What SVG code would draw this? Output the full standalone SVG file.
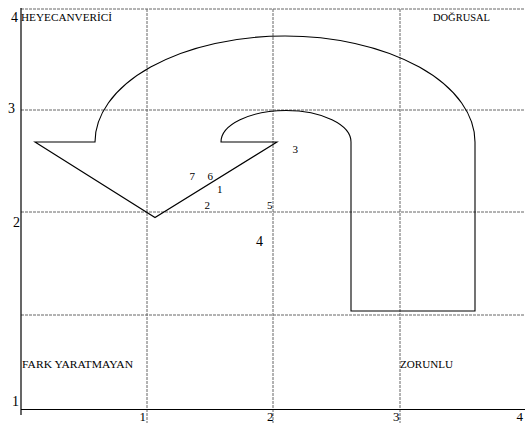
<svg xmlns="http://www.w3.org/2000/svg" width="525" height="423" viewBox="0 0 525 423">
<style>
.grid{stroke:#666;stroke-width:1;stroke-dasharray:3,1;fill:none}
.ax{stroke:#000;stroke-width:1.2;fill:none}
.shape{stroke:#000;stroke-width:1.1;fill:none}
.lbl{font-family:"Liberation Serif",serif;font-size:10.5px;fill:#000}
.num{font-family:"Liberation Serif",serif;font-size:14px;fill:#000}
.bx{font-family:"Liberation Serif",serif;font-size:13px;fill:#000}
.sm{font-family:"Liberation Serif",serif;font-size:11px;fill:#000}
</style>
<rect width="525" height="423" fill="#fff"/>
<g id="grid">
<line class="grid" x1="21" y1="9" x2="525" y2="9"/>
<line class="grid" x1="21" y1="110" x2="525" y2="110"/>
<line class="grid" x1="21" y1="212" x2="525" y2="212"/>
<line class="grid" x1="21" y1="315" x2="525" y2="315"/>
<line class="grid" x1="147" y1="9" x2="147" y2="423"/>
<line class="grid" x1="273" y1="9" x2="273" y2="423"/>
<line class="grid" x1="400" y1="9" x2="400" y2="423"/>
</g>
<g id="axes">
<line class="ax" x1="21" y1="8" x2="21" y2="415"/>
<line class="ax" x1="21" y1="409.5" x2="525" y2="409.5"/>
</g>
<g id="arrow">
<path class="shape" d="M95,142 A190,106 0 0 1 475,142 L475,311 L351,311 L351,142 A65,31.5 0 0 0 221,142 L277,142 L155,217.5 L35,142 Z"/>
</g>
<g id="axis-labels">
<text class="num" x="11" y="22">4</text>
<text class="num" x="8" y="113">3</text>
<text class="num" x="13" y="227">2</text>
<text class="num" x="12" y="406">1</text>
<text class="bx" x="139.5" y="420.5">1</text>
<text class="bx" x="267" y="420.5">2</text>
<text class="bx" x="393" y="420.5">3</text>
<text class="bx" x="516.5" y="420.5">4</text>
</g>
<g id="quadrant-labels">
<text class="lbl" x="21" y="21" textLength="91" lengthAdjust="spacingAndGlyphs">HEYECANVERİCİ</text>
<text class="lbl" x="433" y="21" textLength="57" lengthAdjust="spacingAndGlyphs">DOĞRUSAL</text>
<text class="lbl" x="22" y="368" textLength="111" lengthAdjust="spacingAndGlyphs">FARK YARATMAYAN</text>
<text class="lbl" x="400" y="368" textLength="53" lengthAdjust="spacingAndGlyphs">ZORUNLU</text>
</g>
<g id="points">
<text class="sm" x="189.5" y="180">7</text>
<text class="sm" x="207.5" y="180">6</text>
<text class="sm" x="217" y="193">1</text>
<text class="sm" x="204.5" y="209">2</text>
<text class="sm" x="267" y="209">5</text>
<text class="sm" x="292.5" y="153">3</text>
<text class="num" x="256" y="246">4</text>
</g>
</svg>
